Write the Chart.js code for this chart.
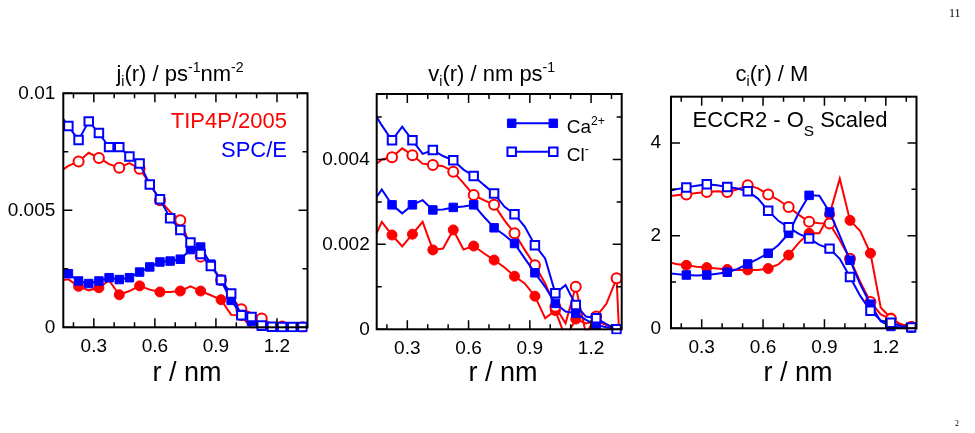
<!DOCTYPE html>
<html>
<head>
<meta charset="utf-8">
<script src="https://cdn.jsdelivr.net/npm/chart.js@4/dist/chart.umd.min.js"></script>
<style>
  html, body { margin: 0; padding: 0; background: #fff; }
  #page { position: relative; width: 975px; height: 433px; overflow: hidden; }
  canvas { position: absolute; top: 0; }
  .note { position: absolute; font-family: "Liberation Serif", "DejaVu Serif", serif; color: #000; }
</style>
</head>
<body>
<div id="page">
  <canvas id="cj" width="315" height="433" style="left:0px"></canvas>
  <canvas id="cv" width="325" height="433" style="left:315px"></canvas>
  <canvas id="cc" width="335" height="433" style="left:640px"></canvas>
  <div class="note" style="left:949px; top:6px; font-size:12px;">11</div>
  <div class="note" style="left:955px; top:419px; font-size:8px;">2</div>
</div>
<script>
const FONT = '"Liberation Sans", Arial, Helvetica, sans-serif';

// bin centres, nm
const rBins = [0.125, 0.175, 0.225, 0.275, 0.325, 0.375, 0.425, 0.475, 0.525, 0.575,
               0.625, 0.675, 0.725, 0.775, 0.825, 0.875, 0.925, 0.975, 1.025, 1.075,
               1.125, 1.175, 1.225, 1.275, 1.325, 1.375];

// ticks
const xMajorTicks = [0.3, 0.6, 0.9, 1.2];
const xMinorTicks = [0.2, 0.4, 0.5, 0.7, 0.8, 1.0, 1.1, 1.3];
const jTicks = [0, 0.005, 0.01];
const jTickLabels = ['0', '0.005', '0.01'];
const jMinor = [0.0025, 0.0075];
const vTicks = [0, 0.002, 0.004];
const vTickLabels = ['0', '0.002', '0.004'];
const vMinor = [0.001, 0.003, 0.005];
const cTicks = [0, 2, 4];
const cTickLabels = ['0', '2', '4'];
const cMinor = [1, 3];

// j_i(r) / ps^-1 nm^-2
const jCaTip  = [0.0020, 0.00205, 0.00175, 0.00158, 0.00169, 0.0020, 0.00139, 0.00155, 0.00177, 0.00161,
                 0.00151, 0.00151, 0.00155, 0.00175, 0.00155, 0.00137, 0.00118, 0.00053, 0.0005, -0.00005,
                 0, 0, 0, 0, 0, 0];
const jClTip  = [0.0066, 0.0069, 0.00709, 0.00746, 0.00724, 0.00697, 0.00682, 0.00702, 0.00678, 0.00614,
                 0.00543, 0.00493, 0.00458, 0.00345, 0.00302, 0.00266, 0.00202, 0.00131, 0.00077, 0.0006,
                 0.00038, 0.00014, 0.00003, 0.00001, 0, 0];
const jCaSpce = [0.0024, 0.00229, 0.00198, 0.00187, 0.00198, 0.00212, 0.00204, 0.00212, 0.00236, 0.00258,
                 0.00279, 0.00283, 0.00291, 0.00332, 0.00343, 0.0027, 0.0020, 0.00115, 0.00055, 0.00025,
                 0.00005, 0, 0, 0, 0, 0];
const jClSpce = [0.0092, 0.0086, 0.0080, 0.0088, 0.0083, 0.0077, 0.0077, 0.0073, 0.0070, 0.0061,
                 0.00547, 0.00466, 0.00416, 0.00362, 0.00313, 0.00262, 0.00202, 0.00144, 0.00051, 0.00044,
                 0.00008, 0.00002, 0.00001, 0.00001, 0.00001, 0];

// v_i(r) / nm ps^-1
const vCaTip  = [0.0020, 0.00253, 0.00222, 0.00195, 0.00224, 0.00253, 0.00187, 0.0019, 0.00234, 0.00188,
                 0.00196, 0.00179, 0.00163, 0.00146, 0.00125, 0.00108, 0.00078, 0.00026, 0.00044, -0.0002,
                 0.00024, 0.00014, 0.0002, 0.0001, 0, 0];
const vClTip  = [0.0038, 0.0040, 0.00405, 0.00426, 0.0041, 0.0039, 0.00387, 0.00384, 0.00371, 0.00344,
                 0.00316, 0.00304, 0.00293, 0.00257, 0.00226, 0.00187, 0.00151, 0.00108, 0.00053, 0.00014,
                 0.0010, -0.0001, 0.0003, 0.0006, 0.0012, -0.004];
const vCaSpce = [0.00295, 0.00329, 0.00293, 0.00273, 0.00293, 0.00304, 0.00281, 0.00282, 0.00287, 0.00289,
                 0.00293, 0.00265, 0.00239, 0.00222, 0.00202, 0.00167, 0.00133, 0.0010, 0.00061, 0.00042,
                 0.00038, 0.00022, 0.0001, 0.00005, 0, 0];
const vClSpce = [0.0052, 0.0048, 0.00445, 0.00477, 0.00445, 0.00413, 0.00422, 0.00408, 0.00398, 0.00376,
                 0.00361, 0.0034, 0.0032, 0.00289, 0.00271, 0.00242, 0.00198, 0.00167, 0.00085, 0.00104,
                 0.00057, 0.0003, 0.00026, 0.00012, 0, 0];

// c_i(r) / M
const cCaTip  = [1.44, 1.39, 1.36, 1.33, 1.31, 1.29, 1.27, 1.26, 1.26, 1.26,
                 1.29, 1.38, 1.58, 1.85, 2.05, 2.05, 2.46, 3.23, 2.33, 2.1,
                 1.62, 0.45, 0.22, 0.08, 0.04, 0];
const cClTip  = [2.84, 2.87, 2.89, 2.92, 2.94, 2.96, 2.94, 3.0, 3.09, 3.02,
                 2.89, 2.77, 2.62, 2.45, 2.3, 2.27, 2.26, 1.9, 1.5, 1.0,
                 0.57, 0.3, 0.2, 0.08, 0.03, 0];
const cCaSpce = [1.2, 1.17, 1.15, 1.14, 1.15, 1.18, 1.21, 1.28, 1.39, 1.5,
                 1.62, 1.8, 2.05, 2.5, 2.87, 2.86, 2.51, 2.0, 1.47, 0.95,
                 0.52, 0.15, 0.04, 0.02, 0.01, 0];
const cClSpce = [2.95, 3.0, 3.04, 3.08, 3.11, 3.09, 3.05, 3.02, 2.96, 2.8,
                 2.54, 2.32, 2.18, 2.04, 1.94, 1.8, 1.72, 1.5, 1.11, 0.7,
                 0.38, 0.17, 0.12, 0.05, 0.02, 0];

const RED = '#ff0000';
const BLUE = '#0000ff';
const SQ = 6;     // square marker radius
const CIR = 5;    // circle marker radius

const everyOther = i => i >= 2 && i <= 24 && i % 2 === 0;
const everyPoint = i => i >= 1 && i <= 24;

function series(values, color, filled, style, marks, clipBottom) {
  return {
    data: rBins.map((r, i) => ({ x: r, y: values[i] })),
    borderColor: color,
    borderWidth: 2,
    tension: 0,
    fill: false,
    pointStyle: style,
    pointRadius: ctx => marks(ctx.dataIndex) ? (style === 'rect' ? SQ : CIR) : 0,
    pointHoverRadius: 0,
    pointBackgroundColor: filled ? color : '#fff',
    pointBorderColor: color,
    pointBorderWidth: filled ? 1 : 2,
    clip: { left: 0, right: 0, top: 0, bottom: clipBottom }
  };
}

// frame with inward ticks on all four sides
const framePlugin = {
  id: 'frame',
  afterDatasetsDraw(chart, args, o) {
    const { ctx, chartArea: a, scales: { x, y } } = chart;
    ctx.save();
    ctx.strokeStyle = '#000';
    ctx.lineWidth = 1.5;
    ctx.beginPath();
    const xt = (vals, len) => vals.forEach(v => {
      const px = x.getPixelForValue(v);
      ctx.moveTo(px, a.bottom); ctx.lineTo(px, a.bottom - len);
      ctx.moveTo(px, a.top); ctx.lineTo(px, a.top + len);
    });
    const yt = (vals, len) => vals.forEach(v => {
      const py = y.getPixelForValue(v);
      ctx.moveTo(a.left, py); ctx.lineTo(a.left + len, py);
      ctx.moveTo(a.right, py); ctx.lineTo(a.right - len, py);
    });
    xt(xMajorTicks, 9); xt(xMinorTicks, 5);
    yt(o.yMajor, 9); yt(o.yMinor, 5);
    ctx.stroke();
    ctx.lineWidth = 2;
    ctx.strokeRect(a.left, a.top, a.right - a.left, a.bottom - a.top);
    ctx.restore();
  }
};

function drawRich(ctx, it) {
  const pieces = it.parts.map(([t, kind]) => {
    const size = kind ? it.size * (it.small || 0.64) : it.size;
    const dy = kind === 'sub' ? it.size * (it.subDy || 0.24) : kind === 'sup' ? -it.size * 0.42 : 0;
    ctx.font = size + 'px ' + FONT;
    return { t, size, dy, w: ctx.measureText(t).width };
  });
  const total = pieces.reduce((s, p) => s + p.w, 0);
  let x = it.align === 'right' ? it.x - total : it.align === 'center' ? it.x - total / 2 : it.x;
  ctx.fillStyle = it.color || '#000';
  ctx.textAlign = 'left';
  ctx.textBaseline = 'alphabetic';
  pieces.forEach(p => {
    ctx.font = p.size + 'px ' + FONT;
    ctx.fillText(p.t, x, it.y + p.dy);
    x += p.w;
  });
}

const textPlugin = {
  id: 'texts',
  afterDraw(chart, args, o) {
    const ctx = chart.ctx;
    ctx.save();
    (o.samples || []).forEach(s => {
      ctx.strokeStyle = s.color;
      ctx.lineWidth = 2;
      ctx.beginPath();
      ctx.moveTo(s.x1, s.y); ctx.lineTo(s.x2, s.y);
      ctx.stroke();
      ctx.fillStyle = s.filled ? s.color : '#fff';
      ctx.lineWidth = s.filled ? 1 : 2;
      [s.x1, s.x2].forEach(px => Chart.helpers.drawPoint(ctx,
        { pointStyle: 'rect', radius: SQ, rotation: 0, borderWidth: ctx.lineWidth }, px, s.y));
    });
    (o.items || []).forEach(it => drawRich(ctx, it));
    ctx.restore();
  }
};

function makePanel(id, p) {
  const tickFont = { family: FONT, size: 19 };
  return new Chart(document.getElementById(id), {
    type: 'line',
    data: { datasets: p.datasets },
    plugins: [framePlugin, textPlugin],
    options: {
      responsive: false,
      animation: false,
      devicePixelRatio: 1,
      events: [],
      layout: { padding: { left: 0, right: p.right, top: p.top, bottom: 433 - p.bottom - 40 } },
      scales: {
        x: {
          type: 'linear', min: 0.15, max: 1.35,
          afterBuildTicks: s => { s.ticks = xMajorTicks.map(v => ({ value: v })); },
          afterFit: s => { s.height = 40; },
          ticks: { callback: v => v.toFixed(1), padding: 8, color: '#000', font: tickFont,
                   autoSkip: false, maxRotation: 0 },
          grid: { display: false, drawTicks: false },
          border: { display: false }
        },
        y: {
          type: 'linear', min: 0, max: p.yMax,
          afterBuildTicks: s => { s.ticks = p.yTicks.map(v => ({ value: v })); },
          afterFit: s => { s.width = p.left; },
          ticks: { callback: (v, i) => p.yLabels[i], padding: p.yPad, color: '#000', font: tickFont,
                   autoSkip: false },
          grid: { display: false, drawTicks: false },
          border: { display: false }
        }
      },
      plugins: {
        legend: { display: false },
        tooltip: { enabled: false },
        frame: { yMajor: p.yTicks, yMinor: p.yMinor },
        texts: { items: p.items, samples: p.samples || [] }
      }
    }
  });
}

// panel 1: flux
makePanel('cj', {
  left: 63.3, right: 315 - 307.5, top: 93.3, bottom: 327.3,
  yMax: 0.01, yTicks: jTicks, yLabels: jTickLabels, yMinor: jMinor, yPad: 8,
  datasets: [
    series(jClSpce, BLUE, false, 'rect', everyPoint, 5),
    series(jCaSpce, BLUE, true, 'rect', everyPoint, 5),
    series(jClTip, RED, false, 'circle', everyOther, 5),
    series(jCaTip, RED, true, 'circle', everyOther, 1)
  ],
  items: [
    { x: 180, y: 81, size: 22, parts: [['j'], ['i', 'sub'], ['(r) / ps'], ['-1', 'sup'], ['nm'], ['-2', 'sup']], align: 'center' },
    { x: 187, y: 381, size: 27, parts: [['r / nm']], align: 'center' },
    { x: 287, y: 127.5, size: 22, color: RED, parts: [['TIP4P/2005']], align: 'right' },
    { x: 287, y: 157, size: 22, color: BLUE, parts: [['SPC/E']], align: 'right' }
  ]
});

// panel 2: velocity
makePanel('cv', {
  left: 61.7, right: 325 - 306.7, top: 94, bottom: 329.3,
  yMax: 0.00554, yTicks: vTicks, yLabels: vTickLabels, yMinor: vMinor, yPad: 7,
  datasets: [
    series(vClSpce, BLUE, false, 'rect', everyOther, 5),
    series(vCaSpce, BLUE, true, 'rect', everyOther, 5),
    series(vClTip, RED, false, 'circle', everyOther, 1),
    series(vCaTip, RED, true, 'circle', everyOther, 1)
  ],
  samples: [
    { x1: 196.7, x2: 238.3, y: 123.3, color: BLUE, filled: true },
    { x1: 196.7, x2: 238.3, y: 151.7, color: BLUE, filled: false }
  ],
  items: [
    { x: 176.7, y: 81, size: 22, parts: [['v'], ['i', 'sub'], ['(r) / nm ps'], ['-1', 'sup']], align: 'center' },
    { x: 188, y: 381, size: 27, parts: [['r / nm']], align: 'center' },
    { x: 251.7, y: 132.7, size: 19, parts: [['Ca'], ['2+', 'sup']], align: 'left' },
    { x: 251.7, y: 160.5, size: 19, parts: [['Cl'], ['-', 'sup']], align: 'left' }
  ]
});

// panel 3: concentration
makePanel('cc', {
  left: 31, right: 335 - 276.5, top: 96.7, bottom: 328.3,
  yMax: 5, yTicks: cTicks, yLabels: cTickLabels, yMinor: cMinor, yPad: 10,
  datasets: [
    series(cClSpce, BLUE, false, 'rect', everyOther, 5),
    series(cCaSpce, BLUE, true, 'rect', everyOther, 5),
    series(cClTip, RED, false, 'circle', everyOther, 5),
    series(cCaTip, RED, true, 'circle', everyOther, 5)
  ],
  items: [
    { x: 132, y: 81, size: 22, parts: [['c'], ['i', 'sub'], ['(r) / M']], align: 'center' },
    { x: 158, y: 381, size: 27, parts: [['r / nm']], align: 'center' },
    { x: 150, y: 127.3, size: 22, small: 0.7, subDy: 0.38, parts: [['ECCR2 - O'], ['S', 'sub'], [' Scaled']], align: 'center' }
  ]
});
</script>
</body>
</html>
